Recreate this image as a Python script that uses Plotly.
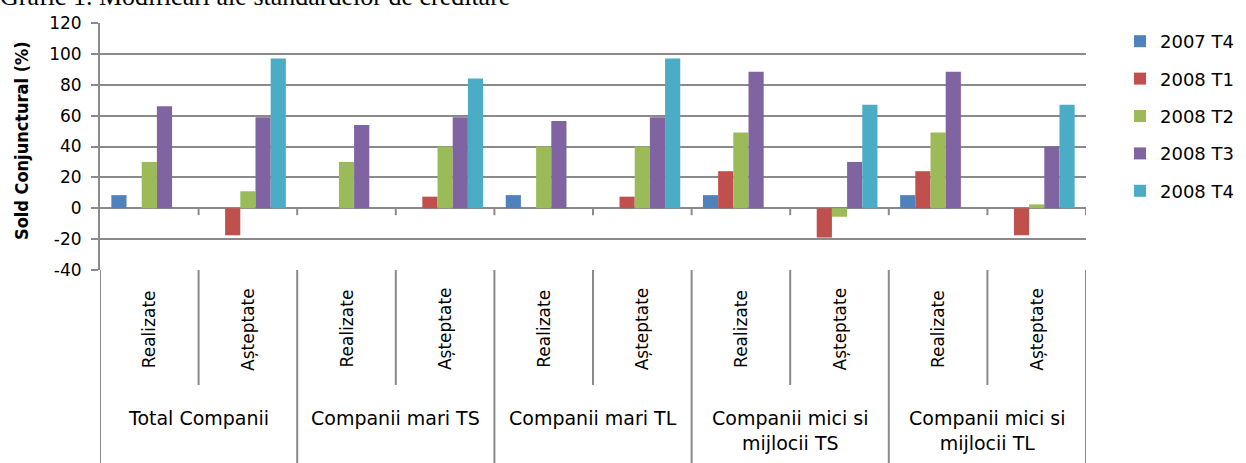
import plotly.graph_objects as go

# Category structure: each company group has a "Realizate" and an "Așteptate" column
groups = ["Total Companii", "Companii mari TS", "Companii mari TL",
          "Companii mici si<br>mijlocii TS", "Companii mici si<br>mijlocii TL"]
subcats = ["Realizate", "Așteptate"]

series_names = ["2007 T4", "2008 T1", "2008 T2", "2008 T3", "2008 T4"]
v_2007_t4 = [8.5, None, None, None, 8.5, None, 8.5, None, 8.5, None]
v_2008_t1 = [None, -17.5, None, 7.5, None, 7.5, 24, -19, 24, -17.5]
v_2008_t2 = [30, 11, 30, 40, 40, 40, 49, -5.5, 49, 2.5]
v_2008_t3 = [66, 59, 54, 59, 56.5, 59, 88.5, 30, 88.5, 40]
v_2008_t4 = [None, 97, None, 84, None, 97, None, 67, None, 67]
series_values = [v_2007_t4, v_2008_t1, v_2008_t2, v_2008_t3, v_2008_t4]
colors = ["#4F81BD", "#C0504D", "#9BBB59", "#8064A2", "#4BACC6"]

y_ticks = [-40, -20, 0, 20, 40, 60, 80, 100, 120]
y_tick_text = ["-40", "-20", "0", "20", "40", "60", "80", "100", "120"]

W, H = 1246, 463
ML, MR, MT, MB = 100, 160, 23, 193
plot_h = H - MT - MB
plot_w = W - ML - MR


def py(px):
    """Pixel row -> paper y coordinate."""
    return (H - MB - px) / plot_h


def pxx(px):
    """Pixel column -> paper x coordinate."""
    return (px - ML) / plot_w


n_cols = len(groups) * len(subcats)
x_idx = list(range(n_cols))
GRID = "#8a8a8a"
FONT = "DejaVu Sans"

fig = go.Figure()
for name, vals, col in zip(series_names, series_values, colors):
    fig.add_trace(go.Bar(
        x=x_idx, y=vals, name=name, legendgroup=name,
        marker=dict(color=col, line=dict(width=0)),
    ))

# Column and group labels below the plot
annotations = []
for i in x_idx:
    annotations.append(dict(
        x=i, xref="x", y=py(329), yref="paper", text=subcats[i % 2],
        textangle=-90, showarrow=False, xanchor="center", yanchor="middle",
        font=dict(family=FONT, size=17, color="#000"),
    ))
for g, label in enumerate(groups):
    annotations.append(dict(
        x=2 * g + 0.5, xref="x", y=py(405), yref="paper", text=label,
        showarrow=False, xanchor="center", yanchor="top",
        font=dict(family=FONT, size=19, color="#000"),
    ))
# Y axis title
annotations.append(dict(
    x=pxx(21), xref="paper", y=py(141), yref="paper",
    text="<b>Sold Conjunctural (%)</b>", textangle=-90, showarrow=False,
    xanchor="center", yanchor="middle",
    font=dict(family="Liberation Sans Narrow, DejaVu Sans Condensed, Roboto", size=18, color="#000"),
))
# Chart caption at the top edge
annotations.append(dict(
    x=pxx(-2), xref="paper", y=py(-3), yref="paper",
    text="Grafic 1. Modificări ale standardelor de creditare",
    showarrow=False, xanchor="left", yanchor="middle",
    font=dict(family="Liberation Serif", size=26, color="#000"),
))

# Table-like dividers under the plot and tick marks on the zero line
shapes = []
for k in range(n_cols + 1):
    b = k - 0.5
    bottom = py(H) if k % 2 == 0 else py(385)
    shapes.append(dict(type="line", xref="x", yref="paper", x0=b, x1=b,
                       y0=0, y1=bottom, line=dict(color=GRID, width=2)))
    if k > 0:
        shapes.append(dict(type="line", xref="x", yref="y", x0=b, x1=b,
                           y0=0, y1=-4.5, line=dict(color=GRID, width=2)))

fig.update_layout(
    width=W, height=H,
    margin=dict(l=ML, r=MR, t=MT, b=MB, pad=0, autoexpand=False),
    paper_bgcolor="white", plot_bgcolor="white",
    barmode="group", bargap=0.23, bargroupgap=0,
    showlegend=True,
    legend=dict(
        x=pxx(1120), xanchor="left", y=py(23), yanchor="top",
        font=dict(family=FONT, size=18, color="#000"),
        tracegroupgap=11, itemwidth=30, bgcolor="rgba(0,0,0,0)",
    ),
    xaxis=dict(range=[-0.5, n_cols - 0.5], showticklabels=False,
               showgrid=False, zeroline=False, showline=False, ticks=""),
    yaxis=dict(range=[-40, 120], tickvals=y_ticks, ticktext=y_tick_text,
               showgrid=True, gridcolor=GRID, gridwidth=2, zeroline=True,
               zerolinecolor=GRID, zerolinewidth=2,
               showline=True, linecolor=GRID, linewidth=2,
               ticks="outside", ticklen=7, tickwidth=2, tickcolor=GRID,
               tickfont=dict(family=FONT, size=17, color="#000"),
               ticklabelstandoff=6),
    annotations=annotations,
    shapes=shapes,
)

fig.write_html("out.html")
